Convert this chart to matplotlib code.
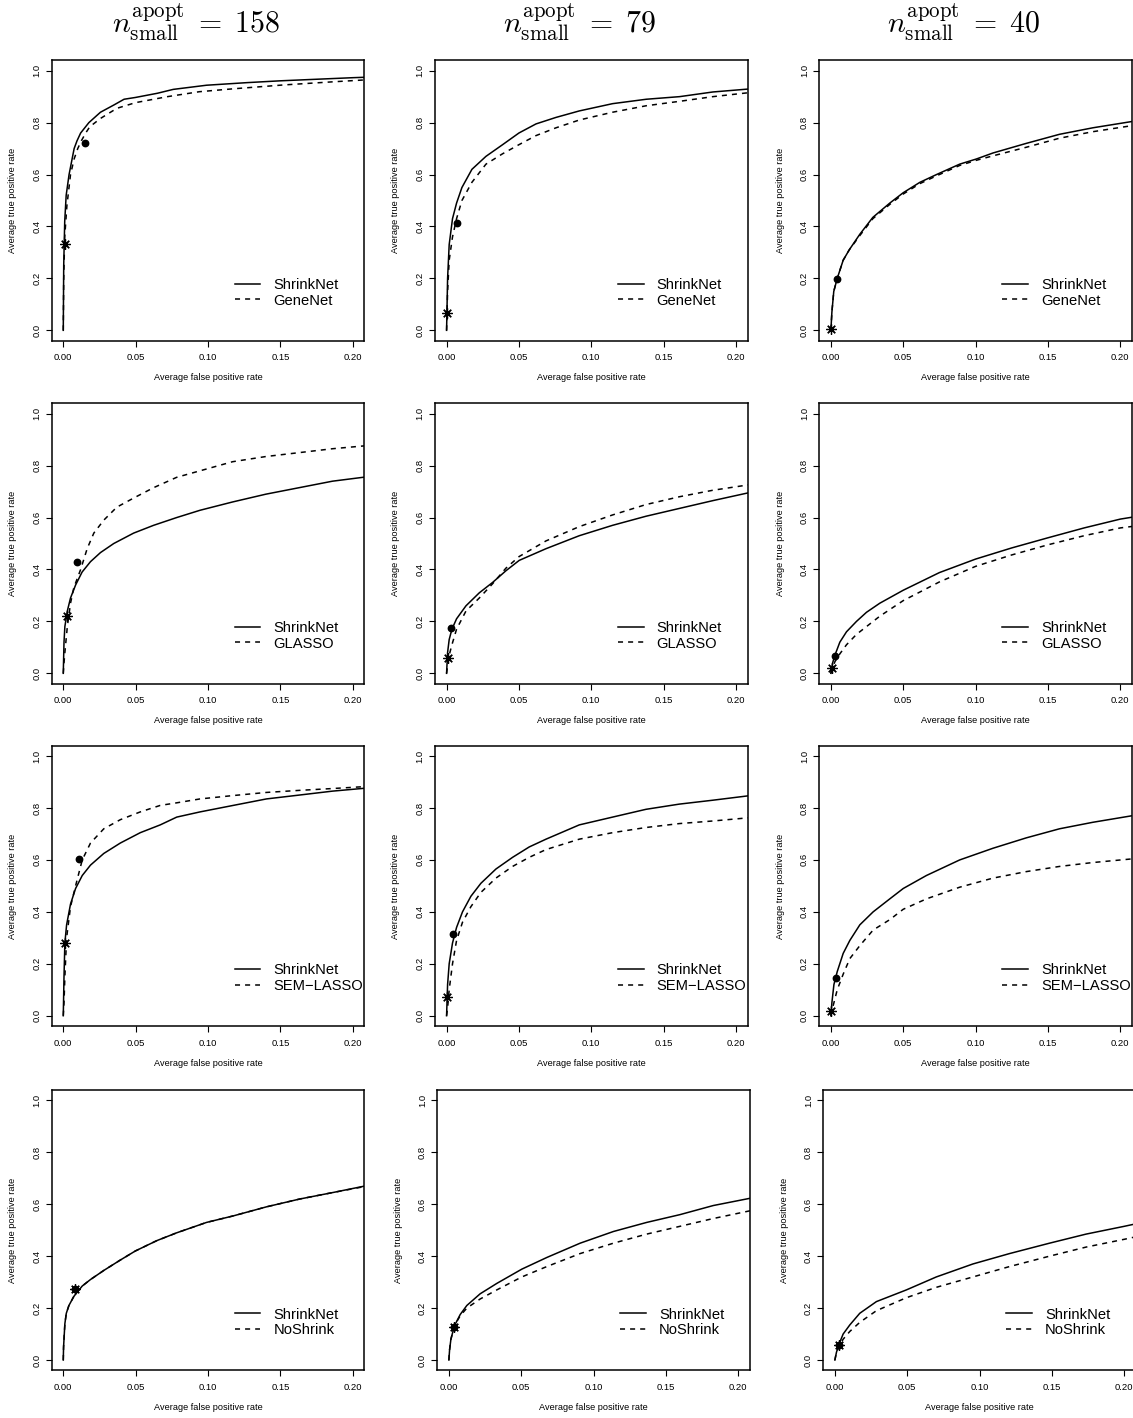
import numpy as np
import matplotlib
matplotlib.use("Agg")
import matplotlib.pyplot as plt

plt.rcParams['font.family'] = ['Liberation Sans', 'DejaVu Sans']
plt.rcParams['mathtext.fontset'] = 'cm'

# ---------------- data ----------------
sample_sizes = [158, 79, 40]
methods = ["GeneNet", "GLASSO", "SEM\u2212LASSO", "NoShrink"]

xticks = [0.00, 0.05, 0.10, 0.15, 0.20]
xtick_labels = ["0.00", "0.05", "0.10", "0.15", "0.20"]
yticks = [0.0, 0.2, 0.4, 0.6, 0.8, 1.0]
ytick_labels = ["0.0", "0.2", "0.4", "0.6", "0.8", "1.0"]

# Row 1: ShrinkNet vs GeneNet
r1c1_sx = [0, 0.0003, 0.001, 0.002, 0.004, 0.0075, 0.0095, 0.012, 0.0177, 0.0257, 0.035, 0.042, 0.05, 0.065, 0.076, 0.099, 0.127, 0.15, 0.175, 0.2, 0.21]
r1c1_sy = [0, 0.25, 0.42, 0.52, 0.6, 0.7, 0.73, 0.76, 0.80, 0.84, 0.868, 0.89, 0.897, 0.913, 0.928, 0.944, 0.954, 0.961, 0.967, 0.973, 0.975]
r1c1_dx = [0, 0.0003, 0.001, 0.0025, 0.005, 0.0075, 0.01, 0.0125, 0.0155, 0.0183, 0.0257, 0.037, 0.05, 0.072, 0.094, 0.117, 0.152, 0.186, 0.21]
r1c1_dy = [0, 0.2, 0.36, 0.48, 0.6, 0.66, 0.70, 0.73, 0.76, 0.784, 0.816, 0.855, 0.877, 0.90, 0.919, 0.93, 0.945, 0.957, 0.965]

r1c2_x = [0, 0.0007, 0.0018, 0.0041, 0.0069, 0.0106, 0.0175, 0.0272, 0.0387, 0.05, 0.0618, 0.0756, 0.0917, 0.1147, 0.138, 0.161, 0.184, 0.21]
r1c2_sy = [0, 0.2, 0.33, 0.43, 0.49, 0.55, 0.62, 0.67, 0.715, 0.76, 0.795, 0.82, 0.845, 0.873, 0.89, 0.90, 0.918, 0.93]
r1c2_dy = [0, 0.15, 0.27, 0.36, 0.43, 0.50, 0.57, 0.64, 0.68, 0.715, 0.75, 0.78, 0.81, 0.84, 0.865, 0.882, 0.9, 0.916]

r1c3_x = [0, 0.0007, 0.002, 0.0044, 0.0085, 0.0127, 0.02, 0.029, 0.0407, 0.05, 0.0615, 0.073, 0.089, 0.1006, 0.112, 0.135, 0.158, 0.181, 0.21]
r1c3_sy = [0, 0.07, 0.15, 0.2, 0.27, 0.31, 0.37, 0.435, 0.49, 0.53, 0.57, 0.60, 0.64, 0.66, 0.683, 0.72, 0.755, 0.78, 0.806]
r1c3_dy = [0, 0.07, 0.15, 0.2, 0.27, 0.31, 0.365, 0.43, 0.485, 0.525, 0.565, 0.595, 0.635, 0.655, 0.672, 0.705, 0.74, 0.765, 0.79]

# Row 2: ShrinkNet vs GLASSO
r2c1_sx = [0, 0.0005, 0.0011, 0.0028, 0.005, 0.0085, 0.013, 0.0188, 0.0257, 0.0349, 0.0486, 0.0624, 0.0784, 0.0945, 0.117, 0.14, 0.163, 0.186, 0.21]
r2c1_sy = [0, 0.12, 0.18, 0.24, 0.29, 0.34, 0.39, 0.43, 0.465, 0.5, 0.54, 0.57, 0.6, 0.628, 0.66, 0.69, 0.715, 0.74, 0.757]
r2c1_dx = [0, 0.0005, 0.0011, 0.0028, 0.005, 0.0073, 0.012, 0.0165, 0.0211, 0.028, 0.037, 0.0486, 0.0624, 0.0784, 0.0945, 0.117, 0.14, 0.163, 0.186, 0.21]
r2c1_dy = [0, 0.04, 0.08, 0.18, 0.27, 0.33, 0.40, 0.48, 0.54, 0.59, 0.64, 0.675, 0.715, 0.755, 0.78, 0.815, 0.835, 0.85, 0.865, 0.877]

r2c2_x = [0, 0.0007, 0.0018, 0.0037, 0.0069, 0.0134, 0.0226, 0.0318, 0.041, 0.0502, 0.0687, 0.0917, 0.1147, 0.1378, 0.1608, 0.1839, 0.21]
r2c2_sy = [0, 0.08, 0.13, 0.17, 0.21, 0.26, 0.31, 0.35, 0.395, 0.435, 0.48, 0.53, 0.57, 0.605, 0.635, 0.665, 0.697]
r2c2_dy = [0, 0.03, 0.07, 0.11, 0.17, 0.24, 0.29, 0.345, 0.405, 0.45, 0.51, 0.565, 0.61, 0.65, 0.68, 0.705, 0.727]

r2c3_x = [0, 0.0012, 0.0028, 0.0062, 0.0108, 0.0177, 0.0246, 0.0338, 0.05, 0.075, 0.1, 0.125, 0.15, 0.175, 0.2, 0.21]
r2c3_sy = [0, 0.04, 0.07, 0.12, 0.16, 0.2, 0.235, 0.27, 0.32, 0.388, 0.44, 0.483, 0.522, 0.56, 0.594, 0.603]
r2c3_dy = [0, 0.02, 0.045, 0.075, 0.11, 0.15, 0.18, 0.22, 0.28, 0.352, 0.412, 0.456, 0.495, 0.53, 0.56, 0.567]

# Row 3: ShrinkNet vs SEM-LASSO
r3c1_x = [0, 0.0005, 0.0011, 0.0023, 0.005, 0.0085, 0.0131, 0.0188, 0.028, 0.0394, 0.0532, 0.067, 0.0784, 0.0945, 0.1174, 0.1404, 0.1633, 0.186, 0.21]
r3c1_sy = [0, 0.15, 0.28, 0.35, 0.43, 0.49, 0.54, 0.58, 0.625, 0.665, 0.705, 0.735, 0.765, 0.785, 0.81, 0.835, 0.85, 0.865, 0.877]
r3c1_dy = [0, 0.05, 0.15, 0.3, 0.42, 0.5, 0.6, 0.665, 0.72, 0.755, 0.785, 0.81, 0.82, 0.835, 0.848, 0.86, 0.868, 0.875, 0.883]

r3c2_x = [0, 0.0007, 0.0018, 0.0041, 0.0069, 0.011, 0.0168, 0.0237, 0.0341, 0.0456, 0.0571, 0.0687, 0.0917, 0.1147, 0.1378, 0.1608, 0.1839, 0.21]
r3c2_sy = [0, 0.12, 0.2, 0.28, 0.34, 0.40, 0.46, 0.51, 0.565, 0.61, 0.65, 0.68, 0.735, 0.765, 0.795, 0.815, 0.83, 0.848]
r3c2_dy = [0, 0.03, 0.1, 0.2, 0.29, 0.36, 0.42, 0.475, 0.53, 0.575, 0.61, 0.64, 0.68, 0.705, 0.725, 0.74, 0.75, 0.763]

r3c3_x = [0, 0.0007, 0.0021, 0.0044, 0.0085, 0.0131, 0.02, 0.0292, 0.0407, 0.05, 0.066, 0.089, 0.112, 0.135, 0.158, 0.181, 0.21]
r3c3_sy = [0, 0.05, 0.12, 0.17, 0.24, 0.29, 0.35, 0.4, 0.45, 0.49, 0.54, 0.6, 0.645, 0.685, 0.72, 0.745, 0.772]
r3c3_dy = [0, 0.02, 0.05, 0.1, 0.16, 0.22, 0.27, 0.33, 0.37, 0.41, 0.45, 0.495, 0.53, 0.555, 0.575, 0.59, 0.605]

# Row 4: ShrinkNet vs NoShrink
r4c1_x = [0, 0.0002, 0.0007, 0.0011, 0.0021, 0.0039, 0.0073, 0.0131, 0.0188, 0.028, 0.0394, 0.0498, 0.0647, 0.0784, 0.099, 0.1174, 0.1404, 0.1633, 0.1862, 0.21]
r4c1_sy = [0, 0.05, 0.1, 0.14, 0.18, 0.21, 0.245, 0.285, 0.31, 0.345, 0.385, 0.42, 0.46, 0.49, 0.53, 0.555, 0.59, 0.62, 0.645, 0.672]
r4c1_dy = [0, 0.05, 0.1, 0.14, 0.18, 0.21, 0.245, 0.285, 0.31, 0.345, 0.385, 0.42, 0.46, 0.49, 0.53, 0.555, 0.59, 0.62, 0.645, 0.670]

r4c2_x = [0, 0.0005, 0.0014, 0.0028, 0.0046, 0.0078, 0.0124, 0.0216, 0.0331, 0.0504, 0.0677, 0.0907, 0.1137, 0.1367, 0.1597, 0.1827, 0.21]
r4c2_sy = [0, 0.04, 0.08, 0.11, 0.14, 0.175, 0.21, 0.255, 0.295, 0.35, 0.395, 0.45, 0.495, 0.53, 0.56, 0.595, 0.625]
r4c2_dy = [0, 0.04, 0.08, 0.11, 0.14, 0.17, 0.2, 0.235, 0.27, 0.32, 0.36, 0.41, 0.45, 0.485, 0.515, 0.545, 0.577]

r4c3_x = [0, 0.0011, 0.0028, 0.0057, 0.0103, 0.0172, 0.0287, 0.0494, 0.0701, 0.0954, 0.1207, 0.1483, 0.1736, 0.2, 0.21]
r4c3_sy = [0, 0.03, 0.06, 0.1, 0.135, 0.18, 0.225, 0.27, 0.32, 0.37, 0.41, 0.45, 0.485, 0.515, 0.527]
r4c3_dy = [0, 0.03, 0.05, 0.08, 0.11, 0.145, 0.19, 0.24, 0.28, 0.32, 0.36, 0.4, 0.435, 0.465, 0.477]

# selected points: asterisk and filled circle (fpr, tpr)
star_x = [[0.0011, 0.0, 0.0], [0.0028, 0.0007, 0.0005], [0.0011, 0.0, 0.0], [0.008, 0.0036, 0.0028]]
star_y = [[0.331, 0.065, 0.004], [0.221, 0.058, 0.019], [0.280, 0.074, 0.017], [0.274, 0.126, 0.059]]
dot_x = [[0.0153, 0.0069, 0.0043], [0.0092, 0.0034, 0.0028], [0.0112, 0.0041, 0.0032], [0.008, 0.0036, 0.0028]]
dot_y = [[0.723, 0.414, 0.199], [0.427, 0.174, 0.067], [0.605, 0.316, 0.145], [0.274, 0.126, 0.059]]

curves = [
    [(r1c1_sx, r1c1_sy, r1c1_dx, r1c1_dy), (r1c2_x, r1c2_sy, r1c2_x, r1c2_dy), (r1c3_x, r1c3_sy, r1c3_x, r1c3_dy)],
    [(r2c1_sx, r2c1_sy, r2c1_dx, r2c1_dy), (r2c2_x, r2c2_sy, r2c2_x, r2c2_dy), (r2c3_x, r2c3_sy, r2c3_x, r2c3_dy)],
    [(r3c1_x, r3c1_sy, r3c1_x, r3c1_dy), (r3c2_x, r3c2_sy, r3c2_x, r3c2_dy), (r3c3_x, r3c3_sy, r3c3_x, r3c3_dy)],
    [(r4c1_x, r4c1_sy, r4c1_x, r4c1_dy), (r4c2_x, r4c2_sy, r4c2_x, r4c2_dy), (r4c3_x, r4c3_sy, r4c3_x, r4c3_dy)],
]

# ---------------- layout (pixels) ----------------
W, H = 1133, 1418
fig = plt.figure(figsize=(W / 100, H / 100), dpi=100)

row_top = [60.3, 403.3, 745.7, 1090.0]
col_left = [[51.7, 435.0, 819.3], [51.7, 435.0, 819.3], [51.7, 435.0, 819.3], [51.7, 437.3, 823.3]]
ax_w, ax_h = 312.6, 280.4

LW = 1.1
for r in range(4):
    for c in range(3):
        l = col_left[r][c]
        t = row_top[r]
        ax = fig.add_axes([l / W, 1 - (t + ax_h) / H, ax_w / W, ax_h / H])
        sx, sy, dx, dy = curves[r][c]
        ax.plot(sx, sy, color='black', lw=LW, solid_joinstyle='round', label='ShrinkNet')
        ax.plot(dx, dy, color='black', lw=LW, dashes=(3.3, 3.3), label=methods[r])
        ax.plot([star_x[r][c]], [star_y[r][c]], linestyle='none', marker=(8, 2, 0),
                markersize=7.5, markeredgewidth=0.9, markeredgecolor='black', color='black')
        ax.plot([dot_x[r][c]], [dot_y[r][c]], linestyle='none', marker='o',
                markersize=4.6, color='black')
        ax.set_xlim(-0.008, 0.208)
        ax.set_ylim(-0.04, 1.04)
        ax.set_xticks(xticks)
        ax.set_xticklabels(xtick_labels)
        ax.set_yticks(yticks)
        ax.set_yticklabels(ytick_labels, rotation=90, va='center')
        ax.tick_params(axis='both', direction='out', length=4, width=0.8,
                       labelsize=6.8, colors='black')
        ax.tick_params(axis='x', pad=5)
        ax.tick_params(axis='y', pad=3.5)
        for sp in ax.spines.values():
            sp.set_linewidth(LW)
        ax.set_xlabel("Average false positive rate", fontsize=6.6)
        ax.set_ylabel("Average true positive rate", fontsize=6.6)
        ax.xaxis.set_label_coords(0.5, -37.0 / ax_h)
        ax.xaxis.label.set_va('center')
        ax.yaxis.set_label_coords(-39.0 / ax_w, 0.5)
        ax.yaxis.label.set_va('center')
        ax.legend(loc='center left', bbox_to_anchor=(0.585, 0.171), frameon=False,
                  fontsize=10.6, handlelength=1.75, handletextpad=0.88, labelspacing=0.12,
                  borderpad=0, borderaxespad=0)
        if r == 0:
            ax.text(0.462, 1 + 27.3 / ax_h,
                    r"$n_{\mathrm{small}}^{\mathrm{apopt}} \;=\; %d$" % sample_sizes[c],
                    transform=ax.transAxes, ha='center', va='baseline', fontsize=21.5)

fig.savefig("out.png", dpi=100)
